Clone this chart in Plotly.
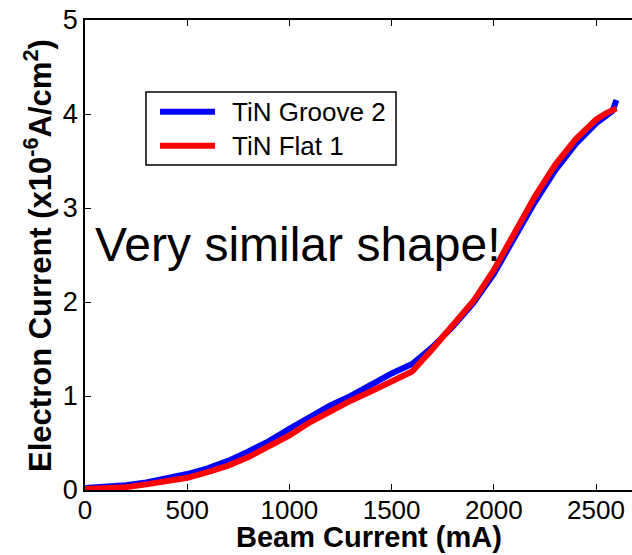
import plotly.graph_objects as go

# Beam current (mA) sample points
beam_groove = [0, 100, 200, 300, 400, 500, 600, 700, 800, 900, 1000, 1100, 1200,
               1300, 1400, 1500, 1600, 1700, 1800, 1900, 2000, 2100, 2200, 2300,
               2400, 2500, 2550, 2580, 2600]
# Electron current (x1e-6 A/cm^2), TiN Groove 2
elec_groove = [0.02, 0.03, 0.05, 0.08, 0.12, 0.17, 0.23, 0.31, 0.41, 0.52, 0.65,
               0.78, 0.90, 1.00, 1.12, 1.24, 1.34, 1.52, 1.74, 1.99, 2.30, 2.68,
               3.06, 3.40, 3.68, 3.90, 3.98, 4.03, 4.15]

beam_flat = [0, 100, 200, 300, 400, 500, 600, 700, 800, 900, 1000, 1100, 1200,
             1300, 1400, 1500, 1600, 1700, 1800, 1900, 2000, 2100, 2200, 2300,
             2400, 2500, 2550, 2600]
# Electron current (x1e-6 A/cm^2), TiN Flat 1
elec_flat = [0.01, 0.02, 0.03, 0.06, 0.09, 0.13, 0.19, 0.26, 0.35, 0.46, 0.58,
             0.72, 0.84, 0.95, 1.05, 1.15, 1.26, 1.50, 1.75, 2.01, 2.34, 2.73,
             3.12, 3.46, 3.73, 3.94, 4.01, 4.06]

series_names = ["TiN Groove 2", "TiN Flat 1"]
series_colors = ["#0000FF", "#FF0000"]

x_ticks = [0, 500, 1000, 1500, 2000, 2500]
y_ticks = [0, 1, 2, 3, 4, 5]

FONT = "Liberation Sans, Arial, sans-serif"

fig = go.Figure()
for xs, ys, name, color in [(beam_groove, elec_groove, series_names[0], series_colors[0]),
                            (beam_flat, elec_flat, series_names[1], series_colors[1])]:
    fig.add_trace(go.Scatter(x=xs, y=ys, mode="lines", name=name,
                             line=dict(color=color, width=6),
                             showlegend=False))

fig.update_layout(
    width=632, height=555,
    margin=dict(l=85, r=0, t=20, b=65),
    paper_bgcolor="white", plot_bgcolor="white",
    font=dict(family=FONT, size=27, color="black"),
)

fig.update_xaxes(range=[0, 2676], tickvals=x_ticks, ticks="inside", ticklen=6,
                 tickcolor="black", showline=True, linecolor="black", linewidth=1.5,
                 mirror="ticks", showgrid=False, zeroline=False,
                 tickfont=dict(size=26), ticklabelstandoff=-4)
fig.update_yaxes(range=[0, 5], tickvals=y_ticks, ticks="inside", ticklen=6,
                 tickcolor="black", showline=True, linecolor="black", linewidth=1.5,
                 showgrid=False, zeroline=False, tickfont=dict(size=27))

# Axis titles
fig.add_annotation(x=0.519, y=-0.1, xref="paper", yref="paper",
                   text="<b>Beam Current (mA)</b>", showarrow=False,
                   font=dict(size=29), xanchor="center", yanchor="middle")
fig.add_annotation(x=-0.086, y=0.50, xref="paper", yref="paper",
                   text="<b>Electron Current (x10<sup>-6</sup>A/cm<sup>2</sup>)</b>",
                   showarrow=False, textangle=-90,
                   font=dict(size=31), xanchor="center", yanchor="middle")

# Note inside the plot
fig.add_annotation(x=0.0146, y=0.523, xref="paper", yref="paper",
                   text="Very similar shape!", showarrow=False,
                   font=dict(size=48), xanchor="left", yanchor="middle")

# Legend box drawn by hand
fig.add_shape(type="rect", xref="paper", yref="paper",
              x0=0.1115, x1=0.5686, y0=0.6915, y1=0.8468,
              line=dict(color="black", width=1.5), fillcolor="white", layer="above")
for name, color, yy in zip(series_names, series_colors, [0.8049, 0.7326]):
    fig.add_shape(type="line", xref="paper", yref="paper",
                  x0=0.1371, x1=0.2377, y0=yy, y1=yy,
                  line=dict(color=color, width=6), layer="above")
    fig.add_annotation(x=0.2651, y=yy, xref="paper", yref="paper",
                       text=name, showarrow=False, font=dict(size=26),
                       xanchor="left", yanchor="middle")

fig.write_html("out.html")
